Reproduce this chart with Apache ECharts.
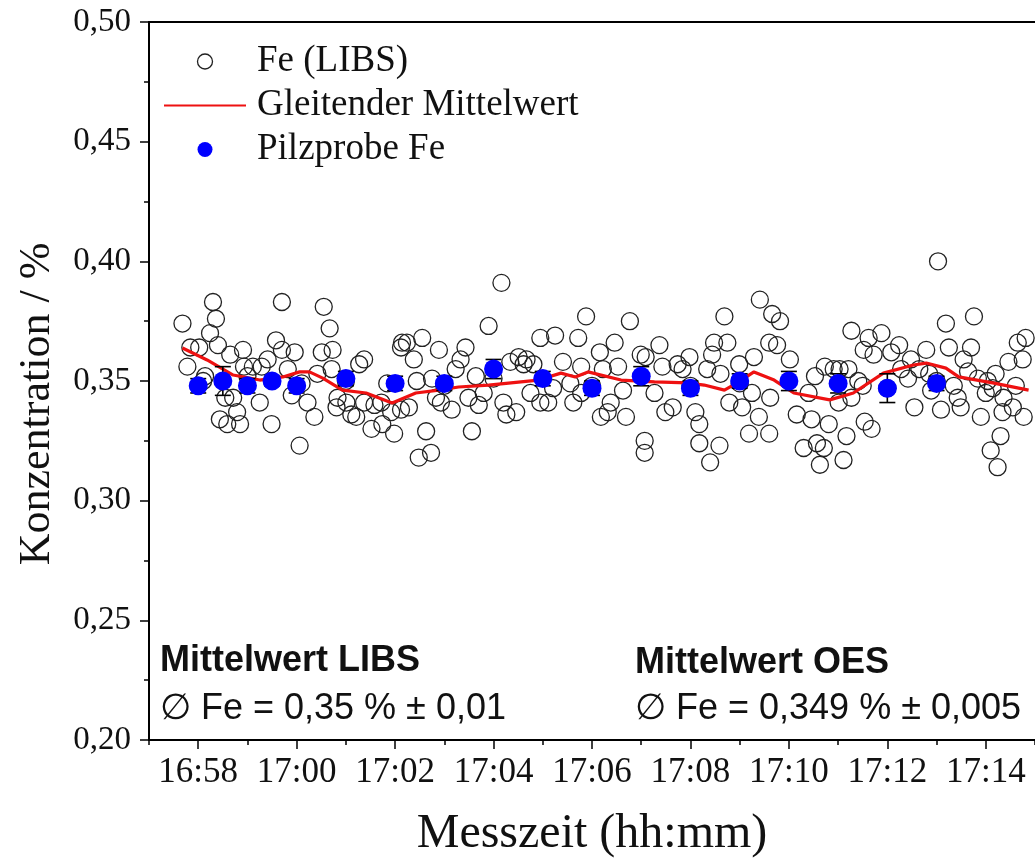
<!DOCTYPE html>
<html>
<head>
<meta charset="utf-8">
<script src="https://cdn.jsdelivr.net/npm/echarts@6/dist/echarts.min.js"></script>
<style>html,body{margin:0;padding:0;background:#fff}#c{width:1035px;height:864px}</style>
</head>
<body>
<div id="c"></div>
<script>
// Time axis: minutes after 16:00 (60 = 17:00)
var xTickValues = [58, 60, 62, 64, 66, 68, 70, 72, 74];
var xTickLabels = ['16:58', '17:00', '17:02', '17:04', '17:06', '17:08', '17:10', '17:12', '17:14'];
var xMinorValues = [57, 59, 61, 63, 65, 67, 69, 71, 73, 75];

// Fe (LIBS) single measurements [minute, %]
var feLibs = [
[57.68,0.374],[57.78,0.356],[57.84,0.364],[58.02,0.364],[58.10,0.350],[58.14,0.352],[58.24,0.370],[58.30,0.383],[58.36,0.376],[58.40,0.365],[58.44,0.334],[58.55,0.343],[58.59,0.332],[58.65,0.361],[58.71,0.343],[58.79,0.337],[58.85,0.332],[58.91,0.363],[58.93,0.356],[59.00,0.352],[59.11,0.356],[59.25,0.341],[59.29,0.356],[59.41,0.359],[59.49,0.332],[59.58,0.367],[59.70,0.363],[59.70,0.383],[59.82,0.355],[59.90,0.344],[59.96,0.362],[60.06,0.323],[60.10,0.349],[60.22,0.341],[60.36,0.335],[60.42,0.353],[60.51,0.362],[60.55,0.381],[60.67,0.372],[60.71,0.355],[60.73,0.363],[60.81,0.339],[60.83,0.343],[61.00,0.350],[61.01,0.341],[61.11,0.336],[61.21,0.335],[61.27,0.357],[61.37,0.359],[61.37,0.341],[61.52,0.330],[61.58,0.340],[61.72,0.341],[61.74,0.332],[61.84,0.349],[61.92,0.337],[61.98,0.328],[62.12,0.338],[62.12,0.364],[62.14,0.366],[62.24,0.366],[62.28,0.339],[62.38,0.359],[62.44,0.350],[62.48,0.318],[62.55,0.368],[62.63,0.329],[62.73,0.320],[62.75,0.351],[62.83,0.343],[62.89,0.363],[62.93,0.341],[63.00,0.348],[63.15,0.338],[63.23,0.355],[63.33,0.359],[63.43,0.364],[63.49,0.343],[63.56,0.329],[63.64,0.352],[63.70,0.340],[63.80,0.345],[63.90,0.373],[64.00,0.351],[64.16,0.391],[64.20,0.341],[64.26,0.336],[64.34,0.358],[64.46,0.337],[64.51,0.360],[64.61,0.357],[64.67,0.359],[64.75,0.345],[64.81,0.357],[64.95,0.368],[64.95,0.341],[65.11,0.341],[65.21,0.347],[65.25,0.369],[65.41,0.358],[65.56,0.349],[65.62,0.341],[65.72,0.368],[65.78,0.356],[65.78,0.345],[65.88,0.377],[66.00,0.348],[66.16,0.362],[66.18,0.335],[66.22,0.355],[66.32,0.337],[66.38,0.341],[66.46,0.366],[66.53,0.356],[66.63,0.346],[66.69,0.335],[66.77,0.375],[66.99,0.361],[67.07,0.325],[67.07,0.320],[67.09,0.360],[67.27,0.345],[67.37,0.365],[67.43,0.356],[67.49,0.337],[67.64,0.339],[67.74,0.357],[67.84,0.355],[67.98,0.360],[68.00,0.348],[68.10,0.337],[68.18,0.332],[68.18,0.324],[68.34,0.355],[68.40,0.316],[68.44,0.361],[68.48,0.366],[68.59,0.323],[68.61,0.353],[68.69,0.377],[68.75,0.366],[68.79,0.341],[68.99,0.357],[69.00,0.349],[69.05,0.339],[69.19,0.328],[69.25,0.345],[69.29,0.360],[69.39,0.335],[69.41,0.384],[69.60,0.366],[69.60,0.328],[69.62,0.343],[69.66,0.378],[69.76,0.365],[69.82,0.375],[70.02,0.359],[70.16,0.336],[70.30,0.322],[70.40,0.345],[70.46,0.334],[70.53,0.352],[70.57,0.324],[70.63,0.315],[70.71,0.322],[70.73,0.356],[70.81,0.332],[70.91,0.355],[71.01,0.341],[71.03,0.355],[71.11,0.317],[71.17,0.327],[71.21,0.355],[71.27,0.371],[71.27,0.343],[71.41,0.350],[71.50,0.348],[71.52,0.363],[71.54,0.333],[71.62,0.368],[71.68,0.330],[71.72,0.361],[71.88,0.370],[72.00,0.347],[72.08,0.362],[72.24,0.365],[72.28,0.355],[72.42,0.351],[72.48,0.359],[72.55,0.339],[72.65,0.355],[72.79,0.363],[72.85,0.353],[72.89,0.346],[73.00,0.350],[73.03,0.400],[73.09,0.338],[73.19,0.374],[73.25,0.364],[73.35,0.348],[73.43,0.343],[73.49,0.339],[73.55,0.359],[73.64,0.354],[73.70,0.364],[73.76,0.377],[73.84,0.351],[73.90,0.335],[74.00,0.345],[74.04,0.350],[74.10,0.321],[74.14,0.347],[74.20,0.353],[74.24,0.314],[74.30,0.327],[74.34,0.337],[74.36,0.343],[74.46,0.358],[74.55,0.339],[74.61,0.348],[74.65,0.366],[74.75,0.359],[74.77,0.335],[74.81,0.368]
];

// Gleitender Mittelwert
var mwTime = [57.68,58.18,58.71,59.25,59.72,60.06,60.26,60.53,60.93,61.41,61.94,62.42,62.89,63.29,63.90,64.91,65.37,65.66,65.92,66.59,67.27,67.94,68.28,68.69,68.95,69.29,69.70,70.10,70.83,71.31,71.92,72.53,72.79,73.19,73.45,74.14,74.87];
var mwFe = [0.3638,0.3588,0.3525,0.3504,0.3517,0.3538,0.3538,0.3512,0.3462,0.3450,0.3408,0.3450,0.3462,0.3475,0.3483,0.3504,0.3533,0.3517,0.3538,0.3504,0.3496,0.3492,0.3483,0.3462,0.3492,0.3538,0.3504,0.3450,0.3421,0.3450,0.3533,0.3567,0.3575,0.3554,0.3517,0.3492,0.3462];

// Pilzprobe Fe (OES) with error
var pilzTime = [58, 58.5, 59, 59.5, 60, 61, 62, 63, 64, 65, 66, 67, 68, 69, 70, 71, 72, 73];
var pilzFe = [0.348, 0.350, 0.348, 0.350, 0.348, 0.351, 0.349, 0.349, 0.355, 0.351, 0.347, 0.352, 0.347, 0.350, 0.350, 0.349, 0.347, 0.349];
var pilzErr = [0.003, 0.006, 0.003, 0.002, 0.003, 0.003, 0.003, 0.003, 0.004, 0.003, 0.003, 0.004, 0.003, 0.003, 0.004, 0.004, 0.006, 0.003];

var serif = 'Liberation Serif';

var chart = echarts.init(document.getElementById('c'), null, {renderer: 'canvas'});
var gridL = 149, gridT = 22, gridW = 891, gridH = 718;

chart.setOption({
  animation: false,
  backgroundColor: '#fff',
  grid: {left: gridL, top: gridT, width: gridW, height: gridH, containLabel: false},
  legend: {
    orient: 'vertical', left: 163, top: 43, padding: 0, itemWidth: 82, itemHeight: 15, itemGap: 7,
    textStyle: {fontFamily: serif, fontSize: 37, color: '#111', padding: [0, 0, 0, 6]},
    data: [
      {name: 'Fe (LIBS)', icon: 'circle', itemStyle: {color: 'rgba(0,0,0,0)', borderColor: '#222', borderWidth: 1.3, opacity: 1}},
      {name: 'Gleitender Mittelwert', itemStyle: {opacity: 0}},
      {name: 'Pilzprobe Fe', icon: 'circle', itemStyle: {color: '#0000ff', opacity: 1}}
    ]
  },
  xAxis: [
    {
      type: 'value', min: 57, max: 75, position: 'bottom',
      name: 'Messzeit (hh:mm)', nameLocation: 'middle', nameGap: 70,
      nameTextStyle: {fontFamily: serif, fontSize: 48, color: '#111'},
      axisLine: {show: true, onZero: false, lineStyle: {color: '#000', width: 2}},
      axisTick: {show: true, customValues: xTickValues, length: 9, lineStyle: {color: '#000', width: 1.5}},
      axisLabel: {customValues: xTickValues, margin: 15, fontFamily: serif, fontSize: 35, color: '#111',
        formatter: function (v) { var i = xTickValues.indexOf(Math.round(v)); return i >= 0 ? xTickLabels[i] : ''; }},
      splitLine: {show: false}
    },
    {
      type: 'value', min: 57, max: 75, position: 'bottom',
      axisLine: {show: false, onZero: false},
      axisTick: {show: true, customValues: xMinorValues, length: 5, lineStyle: {color: '#000', width: 1.5}},
      axisLabel: {show: false}, splitLine: {show: false}
    },
    {
      type: 'value', min: 57, max: 75, position: 'top',
      axisLine: {show: true, onZero: false, lineStyle: {color: '#000', width: 2}},
      axisTick: {show: false}, axisLabel: {show: false}, splitLine: {show: false}
    }
  ],
  yAxis: {
    type: 'value', min: 0.20, max: 0.50, interval: 0.05,
    name: 'Konzentration / %', nameLocation: 'middle', nameGap: 90,
    nameTextStyle: {fontFamily: serif, fontSize: 44, color: '#111', padding: [0, 46, 0, 0]},
    axisLine: {show: true, onZero: false, lineStyle: {color: '#000', width: 2}},
    axisTick: {show: true, length: 9, lineStyle: {color: '#000', width: 1.5}},
    minorTick: {show: true, splitNumber: 2, length: 5, lineStyle: {color: '#000', width: 1.5}},
    axisLabel: {margin: 18, fontFamily: serif, fontSize: 33, color: '#111',
      formatter: function (v) { return v.toFixed(2).replace('.', ','); }},
    splitLine: {show: false}
  },
  series: [
    {
      name: 'Fe (LIBS)', type: 'scatter', xAxisIndex: 0, symbol: 'circle', symbolSize: 17,
      itemStyle: {color: 'rgba(0,0,0,0)', borderColor: '#222', borderWidth: 1.3, opacity: 1},
      data: feLibs, z: 2
    },
    {
      name: 'Gleitender Mittelwert', type: 'line', xAxisIndex: 0, symbol: 'none', smooth: false,
      lineStyle: {color: '#ee1111', width: 3.2}, itemStyle: {color: '#ee1111'},
      data: mwTime.map(function (t, i) { return [t, mwFe[i]]; }), z: 3
    },
    {
      type: 'custom', xAxisIndex: 0, z: 4,
      renderItem: function (params, api) {
        var x = api.value(0), y = api.value(1), e = api.value(2);
        var top = api.coord([x, y + e]), bot = api.coord([x, y - e]);
        var hw = 8, st = {stroke: '#000', lineWidth: 1.6};
        return {type: 'group', children: [
          {type: 'line', shape: {x1: top[0], y1: top[1], x2: bot[0], y2: bot[1]}, style: st},
          {type: 'line', shape: {x1: top[0] - hw, y1: top[1], x2: top[0] + hw, y2: top[1]}, style: st},
          {type: 'line', shape: {x1: bot[0] - hw, y1: bot[1], x2: bot[0] + hw, y2: bot[1]}, style: st}
        ]};
      },
      encode: {x: 0, y: 1},
      data: pilzTime.map(function (t, i) { return [t, pilzFe[i], pilzErr[i]]; })
    },
    {
      name: 'Pilzprobe Fe', type: 'scatter', xAxisIndex: 0, symbol: 'circle', symbolSize: 19,
      itemStyle: {color: '#0000ff', opacity: 1},
      data: pilzTime.map(function (t, i) { return [t, pilzFe[i]]; }), z: 5
    }
  ],
  graphic: [
    {type: 'text', left: 160, top: 643, style: {text: 'Mittelwert LIBS', font: 'bold 36px "Liberation Sans"', fill: '#111'}},
    {type: 'text', left: 160, top: 691, style: {text: '\u2205 Fe = 0,35 % \u00b1 0,01', font: '36px "Liberation Sans"', fill: '#111'}},
    {type: 'text', left: 635, top: 645, style: {text: 'Mittelwert OES', font: 'bold 36px "Liberation Sans"', fill: '#111'}},
    {type: 'text', left: 635, top: 691, style: {text: '\u2205 Fe = 0,349 % \u00b1 0,005', font: '36px "Liberation Sans"', fill: '#111'}}
  ]
});
</script>
</body>
</html>
